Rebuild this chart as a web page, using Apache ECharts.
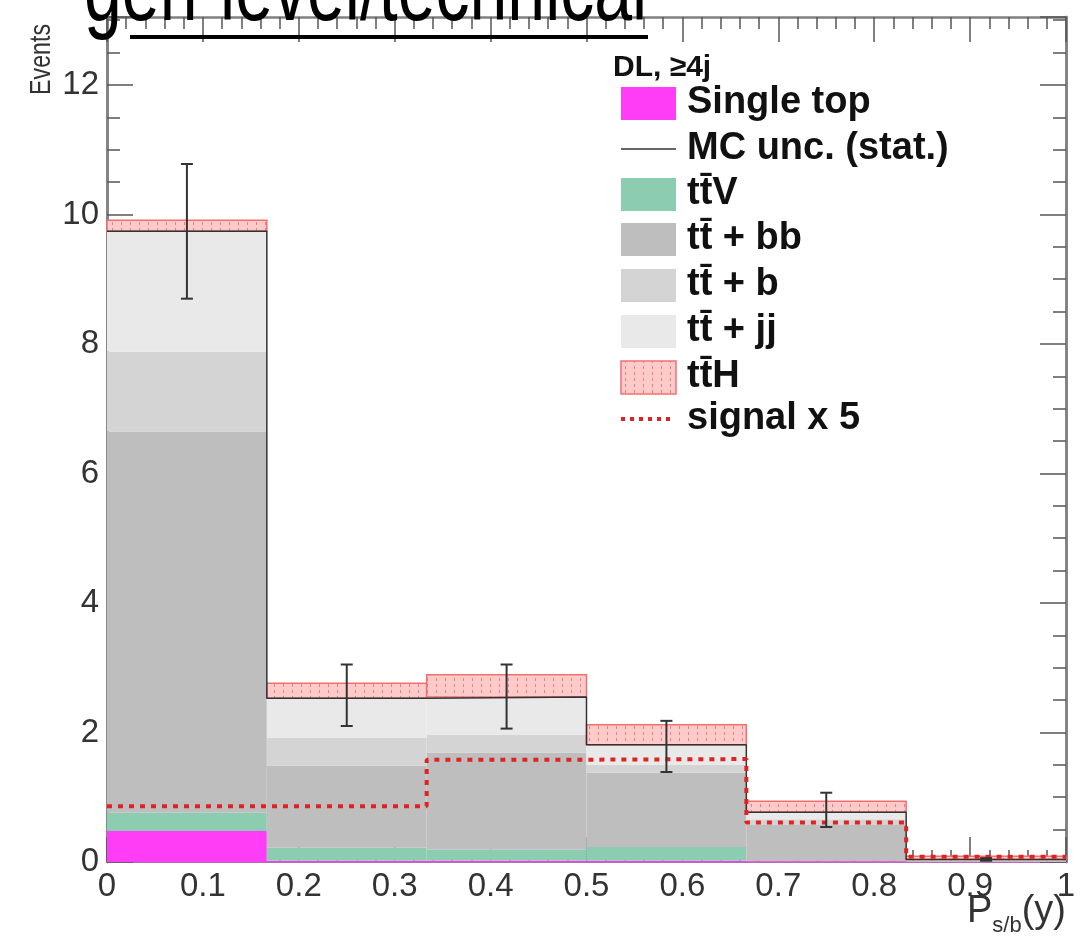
<!DOCTYPE html>
<html>
<head>
<meta charset="utf-8">
<title></title>
<script type="text/javascript" src="https://cdn.jsdelivr.net/npm/echarts@6/dist/echarts.min.js"></script>
<style>
html, body { margin: 0; padding: 0; background: #fff; }
#chart { width: 1083px; height: 946px; }
</style>
</head>
<body>
<div id="chart"></div>
<script type="text/javascript">
// bin edges of P_s/b(y)
var binEdges = [0, 1 / 6, 2 / 6, 3 / 6, 4 / 6, 5 / 6, 1];
// stacked background contributions per bin (bottom -> top)
var singleTop = [0.48, 0.02, 0.02, 0.02, 0.01, 0.00];
var ttV       = [0.28, 0.20, 0.17, 0.21, 0.00, 0.00];
var ttbb      = [5.89, 1.27, 1.50, 1.15, 0.56, 0.02];
var ttb       = [1.23, 0.43, 0.28, 0.12, 0.09, 0.01];
var ttjj      = [1.86, 0.61, 0.58, 0.31, 0.11, 0.01];
var ttH       = [0.17, 0.23, 0.34, 0.31, 0.17, 0.05];
// signal x 5 (dotted line)
var signalX5  = [0.86, 0.86, 1.58, 1.59, 0.61, 0.08];
// MC stat. uncertainty (error bar ends)
var mcErrLow  = [8.70, 2.10, 2.06, 1.39, 0.54, 0.02];
var mcErrHigh = [10.78, 3.05, 3.05, 2.18, 1.07, 0.06];

var FONT = "'Liberation Sans', Arial, Helvetica, sans-serif";

// hatched fill for ttH
function hatchPattern() {
	var c = document.createElement('canvas');
	c.width = 9;
	c.height = 6;
	var ctx = c.getContext('2d');
	ctx.fillStyle = '#ffcaca';
	ctx.fillRect(0, 0, 9, 6);
	ctx.fillStyle = '#ee7f7f';
	ctx.fillRect(4, 0, 1, 3);
	return c;
}
var hatch = hatchPattern();

var base = [0, 0, 0, 0, 0, 0];
function stackSeries(name, values, fill, stroke) {
	var data = [];
	for (var i = 0; i < values.length; i++) {
		data.push([binEdges[i], binEdges[i + 1], base[i], base[i] + values[i]]);
		base[i] += values[i];
	}
	return {
		type: 'custom',
		name: name,
		silent: true,
		encode: { x: [0, 1], y: [2, 3] },
		renderItem: function(params, api) {
			var p0 = api.coord([api.value(0), api.value(3)]);
			var p1 = api.coord([api.value(1), api.value(2)]);
			var style = { fill: fill };
			if (stroke) {
				style.stroke = stroke;
				style.lineWidth = 1.5;
			}
			return {
				type: 'rect',
				shape: { x: p0[0], y: p0[1], width: p1[0] - p0[0], height: p1[1] - p0[1] },
				style: style
			};
		},
		data: data
	};
}

var series = [];
series.push(stackSeries('Single top', singleTop, '#ff3cf6'));
series.push(stackSeries('ttV', ttV, '#8ccdb1'));
series.push(stackSeries('tt+bb', ttbb, '#bebebe'));
series.push(stackSeries('tt+b', ttb, '#d4d4d4'));
series.push(stackSeries('tt+jj', ttjj, '#e9e9e9'));
var bkgTotal = base.slice();
series.push(stackSeries('ttH', ttH, { image: hatch, repeat: 'repeat' }, '#f07070'));

function stepData(values) {
	var d = [];
	for (var i = 0; i < values.length; i++) d.push([binEdges[i], values[i]]);
	d.push([1, values[values.length - 1]]);
	return d;
}

series.push({
	type: 'line',
	name: 'MC total',
	step: 'end',
	symbol: 'none',
	silent: true,
	data: stepData(bkgTotal),
	lineStyle: { color: '#333', width: 1.5 },
	z: 3
});

series.push({
	type: 'line',
	name: 'signal x 5',
	step: 'end',
	symbol: 'none',
	silent: true,
	data: stepData(signalX5),
	lineStyle: { color: '#e02222', width: 4, type: [5, 6] },
	z: 4
});

var errData = [];
for (var i = 0; i < mcErrLow.length; i++) {
	errData.push([(binEdges[i] + binEdges[i + 1]) / 2, mcErrLow[i], mcErrHigh[i]]);
}
series.push({
	type: 'custom',
	name: 'MC unc. (stat.)',
	silent: true,
	encode: { x: 0, y: [1, 2] },
	renderItem: function(params, api) {
		var lo = api.coord([api.value(0), api.value(1)]);
		var hi = api.coord([api.value(0), api.value(2)]);
		var st = { stroke: '#333', lineWidth: 2 };
		return {
			type: 'group',
			children: [
				{ type: 'line', shape: { x1: lo[0], y1: lo[1], x2: hi[0], y2: hi[1] }, style: st },
				{ type: 'line', shape: { x1: lo[0] - 6, y1: lo[1], x2: lo[0] + 6, y2: lo[1] }, style: st },
				{ type: 'line', shape: { x1: hi[0] - 6, y1: hi[1], x2: hi[0] + 6, y2: hi[1] }, style: st }
			]
		};
	},
	data: errData,
	z: 5
});

var tickStyle = { color: '#555', width: 1.5 };
var frameStyle = { color: '#808080', width: 2.5 };
var yMax = 13.05;

function xAxisCfg(pos, labels) {
	return {
		type: 'value',
		position: pos,
		min: 0,
		max: 1,
		interval: 0.1,
		axisLine: { show: true, onZero: false, lineStyle: pos === 'bottom' ? { color: '#b86ab8', width: 2 } : frameStyle },
		axisTick: { show: true, inside: true, length: 25, lineStyle: tickStyle },
		minorTick: { show: true, splitNumber: 5, length: 12, lineStyle: tickStyle },
		splitLine: { show: false },
		axisLabel: {
			show: labels,
			fontFamily: FONT,
			fontSize: 33,
			color: '#333',
			margin: 8,
			formatter: function(v) {
				if (v === 0) return '0';
				if (Math.abs(v - 1) < 1e-9) return '1';
				return v.toFixed(1);
			}
		}
	};
}

function yAxisCfg(pos, interval, len, labels) {
	return {
		type: 'value',
		position: pos,
		min: 0,
		max: yMax,
		interval: interval,
		axisLine: { show: true, onZero: false, lineStyle: frameStyle },
		axisTick: { show: true, inside: true, length: len, lineStyle: tickStyle },
		splitLine: { show: false },
		axisLabel: {
			show: labels,
			fontFamily: FONT,
			fontSize: 33,
			color: '#333',
			margin: 8,
			formatter: function(v) {
				return (Math.abs(v % 2) < 1e-9) ? String(v) : '';
			}
		}
	};
}

var legendY = [103, 149, 194, 239, 285, 331, 377, 419];
var legendNames = ['Single top', 'MC unc. (stat.)', 'tt\u0304V', 'tt\u0304 + bb', 'tt\u0304 + b', 'tt\u0304 + jj', 'tt\u0304H', 'signal x 5'];
var legendFills = ['#ff3cf6', null, '#8ccdb1', '#bebebe', '#d4d4d4', '#e9e9e9', 'hatch', null];

var graphics = [];
// top heading (cut off by the image border)
graphics.push({
	type: 'text', x: 84, y: -6, scaleY: 1.4, z: 100,
	style: { text: 'gen-level/technical', font: '68px ' + FONT, fill: '#000', textVerticalAlign: 'middle' }
});
graphics.push({
	type: 'rect', z: 100,
	shape: { x: 130, y: 35, width: 518, height: 4 },
	style: { fill: '#000' }
});
graphics.push({
	type: 'text', x: 613, y: 68, z: 50,
	style: { text: 'DL, \u22654j', font: 'bold 30px ' + FONT, fill: '#111', textVerticalAlign: 'middle' }
});
for (var k = 0; k < legendNames.length; k++) {
	var y = legendY[k];
	if (legendFills[k] === 'hatch') {
		graphics.push({ type: 'rect', z: 50, shape: { x: 621, y: y - 16, width: 55, height: 33 }, style: { fill: { image: hatch, repeat: 'repeat' }, stroke: '#f07070', lineWidth: 1.5 } });
	} else if (legendFills[k]) {
		graphics.push({ type: 'rect', z: 50, shape: { x: 621, y: y - 16, width: 55, height: 33 }, style: { fill: legendFills[k] } });
	} else if (k === 1) {
		graphics.push({ type: 'line', z: 50, shape: { x1: 621, y1: y, x2: 676, y2: y }, style: { stroke: '#333', lineWidth: 1.5 } });
	} else {
		graphics.push({ type: 'line', z: 50, shape: { x1: 621, y1: y, x2: 672, y2: y }, style: { stroke: '#e02222', lineWidth: 4, lineDash: [4, 5] } });
	}
	graphics.push({
		type: 'text', x: 687, y: y, z: 50,
		style: { text: legendNames[k], font: 'bold 38px ' + FONT, fill: '#111', textVerticalAlign: 'middle' }
	});
}
// axis titles
graphics.push({
	type: 'text', x: 42, y: 24, rotation: Math.PI / 2, scaleX: 0.8, z: 50,
	style: { text: 'Events', font: '29px ' + FONT, fill: '#333', textAlign: 'right', textVerticalAlign: 'middle' }
});
graphics.push({
	type: 'text', right: 17, top: 893, z: 50,
	style: {
		text: '{p|P}{s|s/b}{p|(y)}',
		rich: {
			p: { font: '38px ' + FONT, fill: '#333', verticalAlign: 'bottom' },
			s: { font: '22px ' + FONT, fill: '#333', verticalAlign: 'bottom', padding: [0, 0, -6, 0] }
		}
	}
});

var chart = echarts.init(document.getElementById('chart'), null, { renderer: 'canvas' });
chart.setOption({
	animation: false,
	backgroundColor: '#fff',
	grid: { left: 107, right: 17, top: 17, bottom: 84 },
	xAxis: [xAxisCfg('bottom', true), xAxisCfg('top', false)],
	yAxis: [
		yAxisCfg('left', 2, 26, true),
		yAxisCfg('left', 0.5, 13, false),
		yAxisCfg('right', 2, 26, false),
		yAxisCfg('right', 0.5, 13, false)
	],
	series: series,
	graphic: graphics
});
</script>
</body>
</html>
